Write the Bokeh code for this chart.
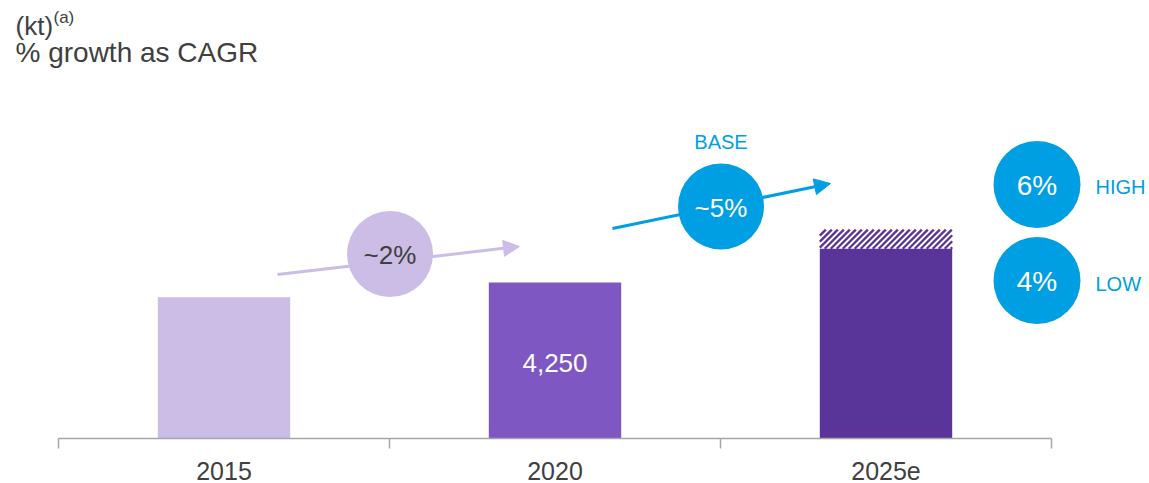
import numpy as np
from bokeh.plotting import figure
from bokeh.models import Range1d, FixedTicker, Arrow, NormalHead
from bokeh.core.properties import value
from bokeh.embed import file_html
from bokeh.resources import INLINE

# ---- data ----
years = ["2015", "2020", "2025e"]
volume_kt = [3850, 4250, 5170]          # base bars (2025e = LOW scenario)
high_2025_kt = 5690                     # HIGH scenario top (hatched)
bar_value_labels = ["", "4,250", ""]
cagr_hist = ["~2%", "~5%"]
scenario_rates = ["6%", "4%"]
scenario_names = ["HIGH", "LOW"]

FONT = value("Liberation Sans")
GREY = "#404040"
BLUE = "#009FE3"
LILAC = "#CBBDE6"
BAR_COLORS = ["#CBBDE6", "#7E57C2", "#5A3599"]

# page-pixel helpers: category axis starts at page x=58, 331px per category;
# baseline at page y=438, 27.24 kt per px
PX_PER_CAT = 331.0
KT_PER_PX = 27.24
def X(px):
    return (px - 58) / PX_PER_CAT
def Y(py):
    return (438 - py) * KT_PER_PX

W, H = 1149, 483
p = figure(width=W, height=H, output_backend="svg", toolbar_location=None,
           x_range=Range1d(X(0), X(W)), y_range=Range1d(0, Y(0)),
           y_axis_location=None, min_border=0, min_border_bottom=H - 438)
p.outline_line_color = None
p.grid.visible = False
p.background_fill_color = "white"
p.border_fill_color = "white"

xs = [i + 0.5 for i in range(len(years))]
BAR_W = 0.4

# bars
p.vbar(x=xs, top=volume_kt, width=BAR_W, fill_color=BAR_COLORS, line_color=None)

# hatched HIGH-scenario upside: diagonal stripes computed from the bar extent
STEP = 6.0
bx0 = xs[2] - BAR_W / 2
bar_w_px = BAR_W * PX_PER_CAT
bar_h_px = (high_2025_kt - volume_kt[2]) / KT_PER_PX
x0s, y0s, x1s, y1s = [], [], [], []
for c in np.arange(-bar_h_px, bar_w_px + STEP, STEP):
    ax0, ay0, ax1, ay1 = c, 0.0, c + bar_h_px, bar_h_px
    if ax0 < 0:
        ay0 -= ax0; ax0 = 0.0
    if ax1 > bar_w_px:
        ay1 -= ax1 - bar_w_px; ax1 = bar_w_px
    if ax1 <= ax0:
        continue
    x0s.append(bx0 + ax0 / PX_PER_CAT); y0s.append(volume_kt[2] + ay0 * KT_PER_PX)
    x1s.append(bx0 + ax1 / PX_PER_CAT); y1s.append(volume_kt[2] + ay1 * KT_PER_PX)
p.segment(x0=x0s, y0=y0s, x1=x1s, y1=y1s, line_color=BAR_COLORS[2],
          line_width=2.3, line_cap="butt")

# value label inside 2020 bar
p.text(x=[xs[1]], y=[Y(362)], text=[bar_value_labels[1]],
       text_font=FONT, text_font_size="26px", text_color="white",
       text_align="center", text_baseline="middle")

# axis
ax = p.xaxis[0]
ax.ticker = FixedTicker(ticks=xs, minor_ticks=[0, 1, 2, 3])
ax.major_label_overrides = {x: y for x, y in zip(xs, years)}
ax.bounds = (0, 3)
ax.axis_line_color = "#A6A6A6"
ax.axis_line_width = 1.5
ax.major_tick_line_color = None
ax.major_tick_out = 0
ax.major_tick_in = 0
ax.minor_tick_line_color = "#A6A6A6"
ax.minor_tick_line_width = 1.5
ax.minor_tick_out = 10
ax.minor_tick_in = 0
ax.major_label_text_font = "Liberation Sans"
ax.major_label_text_font_size = "25px"
ax.major_label_text_color = GREY
ax.major_label_standoff = 13

# arrows (behind circles)
p.add_layout(Arrow(end=NormalHead(size=16, fill_color=LILAC, line_color=LILAC),
                   x_start=X(277), y_start=Y(274), x_end=X(519), y_end=Y(246),
                   line_color=LILAC, line_width=3, level="underlay"))
p.add_layout(Arrow(end=NormalHead(size=16, fill_color=BLUE, line_color=BLUE),
                   x_start=X(612), y_start=Y(228), x_end=X(830), y_end=Y(183),
                   line_color=BLUE, line_width=3, level="underlay"))

# CAGR circles
p.scatter(x=[X(389.5), X(720.5)], y=[Y(253.5), Y(206)], size=86,
          fill_color=[LILAC, BLUE], line_color=None)
p.text(x=[X(389.5), X(720.5)], y=[Y(254), Y(207)], text=cagr_hist,
       text_font=FONT, text_font_size="26px", text_color=[GREY, "white"],
       text_align="center", text_baseline="middle")
p.text(x=[X(720.5)], y=[Y(141)], text=["BASE"], text_font=FONT,
       text_font_size="20px", text_color=BLUE, text_align="center",
       text_baseline="middle")

# scenario circles
p.scatter(x=[X(1036.5)] * 2, y=[Y(184), Y(280)], size=87, fill_color=BLUE,
          line_color=None)
p.text(x=[X(1036.5)] * 2, y=[Y(185), Y(281)], text=scenario_rates,
       text_font=FONT, text_font_size="28px", text_color="white",
       text_align="center", text_baseline="middle")
p.text(x=[X(1095)] * 2, y=[Y(186), Y(283)], text=scenario_names,
       text_font=FONT, text_font_size="20px", text_color=BLUE,
       text_align="left", text_baseline="middle")

# header
p.text(x=[X(15)], y=[Y(25)], text=["(kt)"], text_font=FONT,
       text_font_size="26px", text_color=GREY, text_align="left",
       text_baseline="middle")
p.text(x=[X(53)], y=[Y(17)], text=["(a)"], text_font=FONT,
       text_font_size="17px", text_color=GREY, text_align="left",
       text_baseline="middle")
p.text(x=[X(15)], y=[Y(52)], text=["% growth as CAGR"], text_font=FONT,
       text_font_size="28px", text_color=GREY, text_align="left",
       text_baseline="middle")

open("out.html", "w").write(file_html(p, INLINE))
